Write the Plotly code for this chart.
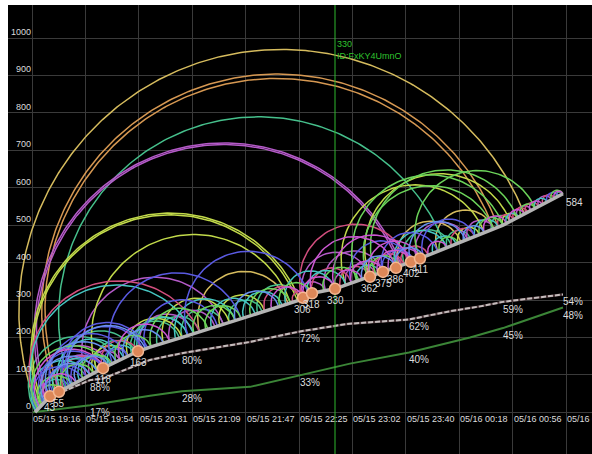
import numpy as np
import pandas as pd
import plotly.graph_objects as go

# ---------------- data ----------------
post_times = ["2023-05-15 19:18:28", "2023-05-15 19:29:04", "2023-05-15 19:35:26", "2023-05-15 19:57:21",
              "2023-05-15 20:06:32", "2023-05-15 20:31:17", "2023-05-15 20:39:46", "2023-05-15 21:02:23",
              "2023-05-15 21:47:38", "2023-05-15 22:25:48", "2023-05-15 22:27:55", "2023-05-15 22:34:17",
              "2023-05-15 22:50:33", "2023-05-15 23:15:17", "2023-05-15 23:24:29", "2023-05-15 23:33:40",
              "2023-05-15 23:42:52", "2023-05-15 23:50:38", "2023-05-16 00:49:19", "2023-05-16 01:31:43"]
post_index = [0, 43, 55, 100, 118, 163, 174, 200, 254, 300, 306, 318, 330, 362, 375, 386, 400, 411, 500, 584]

white_times = ["2023-05-15 19:18:28", "2023-05-15 19:29:04", "2023-05-15 19:35:26", "2023-05-15 19:57:21",
               "2023-05-15 20:06:32", "2023-05-15 20:32:42", "2023-05-15 20:39:46", "2023-05-15 21:02:23",
               "2023-05-15 21:50:28", "2023-05-15 22:25:48", "2023-05-15 22:59:02", "2023-05-15 23:42:52",
               "2023-05-16 00:11:50", "2023-05-16 00:33:03", "2023-05-16 00:49:19", "2023-05-16 01:31:43"]
white_vals = [0, 41, 51, 86, 90, 131, 140, 158, 188, 216, 236, 248, 270, 283, 295, 315]

green_times = ["2023-05-15 19:17:03", "2023-05-15 19:57:21", "2023-05-15 20:39:46", "2023-05-15 21:02:23",
               "2023-05-15 21:50:28", "2023-05-15 22:25:48", "2023-05-15 23:01:09", "2023-05-15 23:42:52",
               "2023-05-16 00:25:59", "2023-05-16 00:49:19", "2023-05-16 01:31:43"]
green_vals = [0, 19, 44, 56, 68, 99, 130, 160, 200, 225, 280]

pct_label_index = [100, 200, 300, 400, 500, 584]
white_pct = ["88%", "80%", "72%", "62%", "59%", "54%"]
green_pct = ["17%", "28%", "33%", "40%", "45%", "48%"]

marker_index = [43, 55, 118, 163, 306, 318, 330, 362, 375, 386, 402, 411]
end_index = 584
highlight_index = 330
highlight_id = "ID:FxKY4UmnO"

x_tick_times = ["2023-05-15 19:16:21", "2023-05-15 19:54:06", "2023-05-15 20:31:51", "2023-05-15 21:09:36",
                "2023-05-15 21:47:21", "2023-05-15 22:25:06", "2023-05-15 23:02:51", "2023-05-15 23:40:36",
                "2023-05-16 00:18:21", "2023-05-16 00:56:06", "2023-05-16 01:33:51"]
x_tick_labels = ["05/15 19:16", "05/15 19:54", "05/15 20:31", "05/15 21:09", "05/15 21:47", "05/15 22:25",
                 "05/15 23:02", "05/15 23:40", "05/16 00:18", "05/16 00:56", "05/16 01:33"]
y_tick_vals = [0, 100, 200, 300, 400, 500, 600, 700, 800, 900, 1000]

# reply arcs: from post index -> to post index, colour key
arc_from = [8, 52, 56, 72, 33, 38, 18, 22, 110, 8, 11, 130, 205, 305, 95, 360, 411, 340, 368, 350, 362, 430, 415,
            318, 325, 330, 306, 345, 362, 375, 386, 390, 395, 402, 408,
            163, 170, 175, 180, 185, 190, 195, 200, 210, 215, 220, 225, 232, 240, 245, 252, 258, 264, 270, 276,
            283, 288, 294, 300, 306, 312, 318, 324, 330, 335, 340, 345, 350, 355, 362, 366, 370, 375, 380, 386, 392,
            2, 4, 6, 8, 14, 16, 20, 24, 25, 28, 30, 34, 40, 42, 45, 48, 50, 55, 58, 60, 62, 64, 66, 70, 73, 75,
            80, 85, 90, 100, 105, 110, 118, 120, 125, 135, 140, 145, 150, 155, 160, 165,
            420, 425, 432, 440, 445, 452, 458, 462, 470, 475, 480, 488, 495, 500, 505, 510, 515, 520, 525, 532,
            538, 545, 550, 556, 562, 568, 572, 575]
arc_to = [530, 495, 490, 439, 392, 390, 300, 298, 292, 215, 210, 250, 314, 400, 235, 490, 545, 480, 520, 500, 510, 490, 470,
          386, 375, 402, 362, 402, 411, 430, 440, 455, 445, 460, 462,
          205, 230, 222, 215, 240, 228, 245, 235, 245, 290, 250, 262, 270, 268, 282, 285, 292, 300, 302, 306,
          318, 330, 312, 325, 330, 340, 345, 352, 355, 362, 368, 375, 372, 386, 390, 395, 402, 405, 411, 415, 420,
          140, 100, 90, 125, 120, 75, 60, 118, 70, 110, 80, 128, 95, 135, 100, 150, 110, 118, 145, 105, 118, 160,
          172, 168, 170, 120, 125, 128, 130, 140, 150, 160, 163, 150, 158, 175, 190, 185, 200, 198, 205, 210,
          440, 450, 452, 465, 470, 475, 480, 490, 495, 500, 505, 510, 515, 520, 522, 530, 535, 540, 545, 550,
          555, 562, 568, 572, 578, 584, 584, 584]
arc_color = ["Y", "O", "O", "T", "P", "P", "L", "L", "L", "K", "C", "B", "B", "K", "P", "G", "G", "L", "G", "G", "L", "Y", "B",
             "M", "P", "M", "P", "B", "M", "B", "C", "Y", "T", "BL", "P",
             "C", "B", "G", "T", "L", "P", "C", "T", "G", "Y", "G", "C", "L", "T", "BL", "C", "G", "T", "K", "M",
             "G", "C", "K", "P", "M", "C", "K", "G", "M", "K", "P", "M", "C", "BL", "G", "K", "M", "B", "P", "BL", "K",
             "T", "C", "B", "G", "M", "G", "G", "B", "T", "BL", "M", "P", "B", "BL", "BL", "B", "C", "P", "C", "G",
             "K", "T", "B", "B", "BL", "B", "BL", "C", "G", "P", "L", "T", "K", "B", "C", "G", "M", "BL", "L", "T",
             "T", "P",
             "M", "C", "G", "T", "K", "L", "BL", "P", "C", "G", "M", "T", "K", "L", "C", "M", "K", "P", "G", "K",
             "M", "C", "P", "K", "B", "G", "M", "T"]

palette = {"Y": "#d6bc5e", "O": "#d69852", "P": "#b45ac8", "T": "#46c08c", "L": "#c2da4a", "K": "#d24e7e",
           "B": "#5a5ae2", "G": "#6cd45a", "C": "#46c6c2", "M": "#cc58d2", "BL": "#6890ee"}

# ---------------- geometry ----------------
FIG_W, FIG_H = 592, 454
L, T = 8, 5
W, H = FIG_W - L, FIG_H - T


def to_ms(lst):
    return pd.DatetimeIndex(pd.to_datetime(lst)).asi8 // 10**6


def to_str(ms_arr):
    return list(pd.to_datetime(np.asarray(ms_arr, dtype="int64"), unit="ms").strftime("%Y-%m-%d %H:%M:%S.%f"))


tick_ms = to_ms(x_tick_times)
step = float(tick_ms[1] - tick_ms[0])
grid_px = 53.4
X0 = float(tick_ms[0]) - (32 - L) / grid_px * step
X1 = float(tick_ms[0]) + (FIG_W - 32) / grid_px * step
ppu = 0.3743
Y1 = (412.3 - T) / ppu
Y0 = -(FIG_H - 412.3) / ppu

post_ms = to_ms(post_times).astype(float)


def t_of(idx):
    return np.interp(idx, post_index, post_ms)


def to_px(t, v):
    return L + (t - X0) / (X1 - X0) * W, T + (Y1 - v) / (Y1 - Y0) * H


def from_px(px, py):
    return X0 + (px - L) / W * (X1 - X0), Y1 - (py - T) / H * (Y1 - Y0)


fig = go.Figure()

# semicircular reply arcs (drawn on screen-space chords), grouped by colour
groups = {}
for a, b, c in zip(arc_from, arc_to, arc_color):
    p1 = np.array(to_px(t_of(a), a))
    p2 = np.array(to_px(t_of(b), b))
    cen = (p1 + p2) / 2
    r = np.linalg.norm(p2 - p1) / 2
    ang = np.arctan2(p2[1] - cen[1], p2[0] - cen[0])
    n = max(16, int(r))
    th = np.linspace(ang, ang - np.pi, n)
    px = cen[0] + r * np.cos(th)
    py = cen[1] + r * np.sin(th)
    tx, vy = from_px(px, py)
    gx, gy = groups.setdefault(c, ([], []))
    gx.extend(to_str(tx) + [None])
    gy.extend(list(vy) + [None])

for c, (gx, gy) in groups.items():
    fig.add_trace(go.Scatter(x=gx, y=gy, mode="lines", line=dict(color=palette[c], width=1.5),
                             hoverinfo="skip", showlegend=False))

# lower cumulative lines
fig.add_trace(go.Scatter(x=white_times, y=white_vals, mode="lines", line=dict(color="#4a3639", width=2.5),
                         hoverinfo="skip", showlegend=False))
fig.add_trace(go.Scatter(x=white_times, y=white_vals, mode="lines",
                         line=dict(color="#c4bcbc", width=2, dash="5px,2px"), hoverinfo="skip", showlegend=False))
fig.add_trace(go.Scatter(x=green_times, y=green_vals, mode="lines", line=dict(color="#3b8537", width=2),
                         hoverinfo="skip", showlegend=False))

# main grey post line
fig.add_trace(go.Scatter(x=post_times, y=post_index, mode="lines", line=dict(color="#b4b4b4", width=3.5),
                         hoverinfo="skip", showlegend=False))

# highlighted post
hl_t = to_str([t_of(highlight_index)])[0]
fig.add_trace(go.Scatter(x=[hl_t, hl_t], y=[Y0, Y1], mode="lines", line=dict(color="#2fb82f", width=1),
                         hoverinfo="skip", showlegend=False))

# orange markers
mk_t = to_str(t_of(np.array(marker_index)))
fig.add_trace(go.Scatter(x=mk_t, y=marker_index, mode="markers",
                         marker=dict(size=11, color="#dd8758", line=dict(color="#f3b792", width=1.5)),
                         hoverinfo="skip", showlegend=False))

FONT = "Liberation Sans, Arial, sans-serif"
TXT = "#dcdcdc"
ann = []
for t, i in zip(mk_t, marker_index):
    ann.append(dict(x=t, y=i, text=str(i), showarrow=False, xanchor="center", yanchor="top", yshift=-4,
                    font=dict(family=FONT, size=10, color=TXT)))
end_t = to_str([t_of(end_index)])[0]
ann.append(dict(x=end_t, y=end_index, text=str(end_index), showarrow=False, xanchor="left", yanchor="top",
                xshift=1, yshift=-1, font=dict(family=FONT, size=10, color=TXT)))

white_ms = to_ms(white_times).astype(float)
green_ms = to_ms(green_times).astype(float)
for i, wp, gp in zip(pct_label_index, white_pct, green_pct):
    t = t_of(i)
    ts = to_str([t])[0]
    ann.append(dict(x=ts, y=float(np.interp(t, white_ms, white_vals)), text=wp, showarrow=False,
                    xanchor="left", yanchor="top", xshift=-2, yshift=0, font=dict(family=FONT, size=10, color=TXT)))
    ann.append(dict(x=ts, y=float(np.interp(t, green_ms, green_vals)), text=gp, showarrow=False,
                    xanchor="left", yanchor="top", xshift=-2, yshift=0, font=dict(family=FONT, size=10, color=TXT)))

for tt, lab in zip(x_tick_times, x_tick_labels):
    ann.append(dict(x=tt, y=0, text=lab, showarrow=False, xanchor="left", yanchor="top", xshift=-1, yshift=0,
                    font=dict(family=FONT, size=9, color=TXT)))
for v in y_tick_vals:
    ann.append(dict(x=x_tick_times[0], y=v, text=str(v), showarrow=False, xanchor="right", yanchor="bottom",
                    xshift=1, yshift=-1, font=dict(family=FONT, size=9, color=TXT)))

ann.append(dict(x=hl_t, y=Y1 - (37 - T) / ppu, text=f"{highlight_index}<br>{highlight_id}", showarrow=False,
                xanchor="left", yanchor="top", xshift=0, align="left",
                font=dict(family=FONT, size=9, color="#2fc22f")))

fig.update_layout(
    width=FIG_W, height=FIG_H, autosize=False,
    margin=dict(l=L, r=0, t=T, b=0, pad=0),
    paper_bgcolor="white", plot_bgcolor="black",
    showlegend=False, annotations=ann,
    xaxis=dict(type="date", range=to_str([X0, X1]), tickvals=x_tick_times, showticklabels=False, ticks="",
               showgrid=True, gridcolor="#3a3a3a", gridwidth=1, zeroline=False, showline=False, fixedrange=True),
    yaxis=dict(range=[Y0, Y1], tickvals=y_tick_vals, showticklabels=False, ticks="", showgrid=True,
               gridcolor="#3a3a3a", gridwidth=1, zeroline=False, showline=False, fixedrange=True),
)

fig.write_html("out.html", config={"displayModeBar": False})
